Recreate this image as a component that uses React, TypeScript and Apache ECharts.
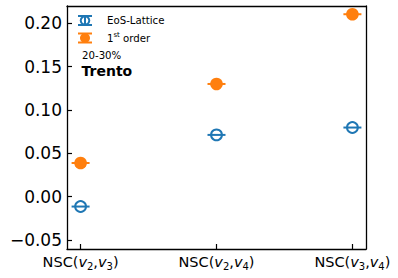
import React, { useEffect, useRef } from "react";
import * as echarts from "echarts";

// ---- data ----
const categorySubscripts: [string, string][] = [["2", "3"], ["2", "4"], ["3", "4"]];
const categoryPositions = [0, 1, 2];
const eosLattice = [-0.0115, 0.0712, 0.0797];
const firstOrder = [0.0388, 0.13, 0.2105];
const yTicks = [-0.05, 0.0, 0.05, 0.1, 0.15, 0.2];
const legendNames = ["EoS-Lattice", "1st order"];
const centralityText = "20-30%";
const modelText = "Trento";

const BLUE = "#1f77b4";
const ORANGE = "#ff7f0e";
const FONT = "DejaVu Sans";
const X_MIN = -0.1;
const X_MAX = 2.1;
const Y_MIN = -0.0605;
const Y_MAX = 0.22;

function makeSeries(name: string, values: number[], color: string, filled: boolean) {
  return {
    type: "custom",
    name,
    xAxisIndex: 0,
    yAxisIndex: 0,
    data: values.map((v, i) => [categoryPositions[i], v]),
    clip: false,
    renderItem: (params: any, api: any) => {
      const p = api.coord([api.value(0), api.value(1)]);
      const cap = 9;
      return {
        type: "group",
        children: [
          {
            type: "line",
            shape: { x1: p[0] - cap, y1: p[1], x2: p[0] + cap, y2: p[1] },
            style: { stroke: color, lineWidth: 2 },
          },
          {
            type: "circle",
            shape: { cx: p[0], cy: p[1], r: filled ? 6.3 : 5.4 },
            style: filled
              ? { fill: color, stroke: color, lineWidth: 0 }
              : { fill: "none", stroke: color, lineWidth: 2 },
          },
        ],
      };
    },
  };
}

function legendIcon(x: number, y: number, color: string, filled: boolean) {
  const hw = 7;
  const hh = 4.5;
  return {
    type: "group",
    children: [
      { type: "line", shape: { x1: x - hw, y1: y - hh, x2: x + hw, y2: y - hh }, style: { stroke: color, lineWidth: 2 } },
      { type: "line", shape: { x1: x - hw, y1: y + hh, x2: x + hw, y2: y + hh }, style: { stroke: color, lineWidth: 2 } },
      { type: "line", shape: { x1: x, y1: y - hh, x2: x, y2: y + hh }, style: { stroke: color, lineWidth: 2 } },
      {
        type: "circle",
        shape: { cx: x, cy: y, r: filled ? 5 : 4.3 },
        style: filled ? { fill: color } : { fill: "none", stroke: color, lineWidth: 2 },
      },
    ],
  };
}

const frameLine = { show: true, onZero: false, lineStyle: { color: "#000", width: 1.3 } };

export default function App() {
  const ref = useRef<HTMLDivElement>(null);
  useEffect(() => {
    if (!ref.current) return;
    const chart = echarts.init(ref.current, null, { renderer: "svg" });
    chart.setOption({
      animation: false,
      backgroundColor: "#ffffff",
      grid: { left: 67, right: 32, top: 6, bottom: 29 },
      xAxis: [
        {
          type: "value",
          position: "bottom",
          min: X_MIN,
          max: X_MAX,
          splitLine: { show: false },
          axisLine: frameLine,
          axisTick: {
            show: true,
            inside: true,
            length: 5,
            customValues: categoryPositions,
            lineStyle: { color: "#000", width: 1.2 },
          },
          axisLabel: {
            customValues: categoryPositions,
            margin: 4,
            color: "#000",
            fontFamily: FONT,
            fontSize: 14.5,
            formatter: (v: number) => {
              const idx = categoryPositions.indexOf(Math.round(v));
              if (idx < 0) return "";
              const [a, b] = categorySubscripts[idx];
              return `{n|NSC(}{i|v}{s|${a}}{n|,}{i|v}{s|${b}}{n|)}`;
            },
            rich: {
              n: { fontFamily: FONT, fontSize: 14.5, color: "#000", lineHeight: 18 },
              i: { fontFamily: FONT, fontSize: 14.5, fontStyle: "italic", color: "#000", lineHeight: 18 },
              s: { fontFamily: FONT, fontSize: 10, color: "#000", lineHeight: 10, verticalAlign: "bottom" },
            },
          },
        },
        {
          type: "value",
          position: "top",
          min: X_MIN,
          max: X_MAX,
          splitLine: { show: false },
          axisLine: frameLine,
          axisTick: { show: false },
          axisLabel: { show: false },
        },
      ],
      yAxis: [
        {
          type: "value",
          position: "left",
          min: Y_MIN,
          max: Y_MAX,
          splitLine: { show: false },
          axisLine: frameLine,
          axisTick: {
            show: true,
            inside: true,
            length: 5,
            customValues: yTicks,
            lineStyle: { color: "#000", width: 1.2 },
          },
          axisLabel: {
            customValues: yTicks,
            margin: 5,
            color: "#000",
            fontFamily: FONT,
            fontSize: 17,
            formatter: (v: number) => v.toFixed(2).replace("-", "\u2212"),
          },
        },
        {
          type: "value",
          position: "right",
          min: Y_MIN,
          max: Y_MAX,
          splitLine: { show: false },
          axisLine: frameLine,
          axisTick: { show: false },
          axisLabel: { show: false },
        },
      ],
      series: [
        makeSeries(legendNames[0], eosLattice, BLUE, false),
        makeSeries(legendNames[1], firstOrder, ORANGE, true),
      ],
      graphic: [
        legendIcon(85, 20.5, BLUE, false),
        legendIcon(85, 38, ORANGE, true),
        {
          type: "text",
          x: 107,
          y: 20.5,
          style: { text: legendNames[0], fontFamily: FONT, fontSize: 10.2, fill: "#000", verticalAlign: "middle" },
        },
        {
          type: "text",
          x: 107,
          y: 38,
          style: {
            text: "{n|1}{s|st}{n| order}",
            verticalAlign: "middle",
            rich: {
              n: { fontFamily: FONT, fontSize: 10.2, fill: "#000", lineHeight: 13 },
              s: { fontFamily: FONT, fontSize: 7, fill: "#000", lineHeight: 7, verticalAlign: "top" },
            },
          },
        },
        {
          type: "text",
          x: 82,
          y: 55,
          style: { text: centralityText, fontFamily: FONT, fontSize: 10.2, fill: "#000", verticalAlign: "middle" },
        },
        {
          type: "text",
          x: 81.5,
          y: 71,
          style: { text: modelText, fontFamily: FONT, fontSize: 14, fontWeight: "bold", fill: "#000", verticalAlign: "middle" },
        },
      ],
    });
    return () => chart.dispose();
  }, []);
  return (
    <div
      ref={ref}
      style={{ position: "fixed", left: 0, top: 0, width: 398, height: 278, background: "#fff" }}
    />
  );
}
